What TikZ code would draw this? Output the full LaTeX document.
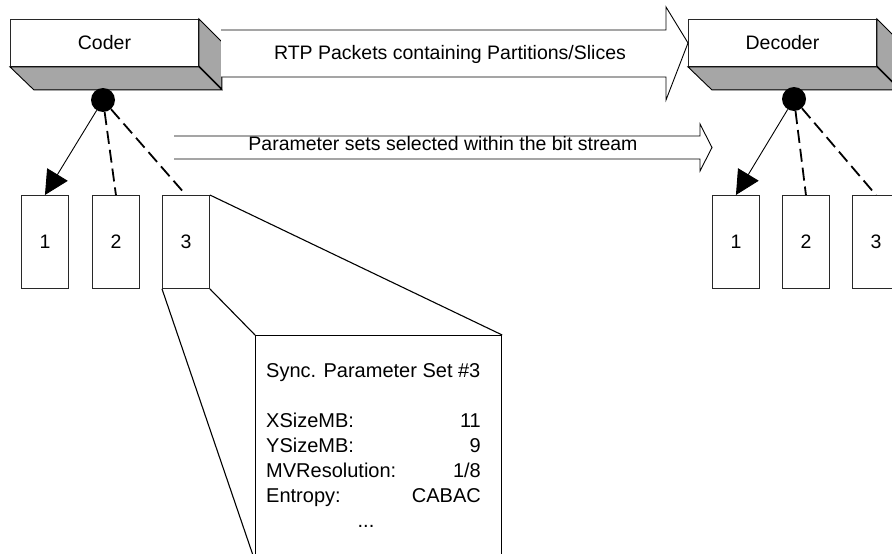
\documentclass[tikz,border=0pt]{standalone}
\usepackage{fontspec}
\setmainfont{Liberation Sans}
\usetikzlibrary{arrows.meta}
\definecolor{sidegray}{RGB}{166,166,166}
\definecolor{edgegray}{RGB}{40,40,40}

\begin{document}
\begin{tikzpicture}[x=1pt,y=-1pt,
  every node/.style={font=\fontsize{19.5}{25}\selectfont},
  frontface/.style={draw=edgegray, line width=0.9pt, fill=white, minimum width=188pt,
    minimum height=47pt, inner sep=0pt, anchor=north west},
  sideface/.style={draw=black, line width=0.9pt, fill=sidegray, line join=miter},
  slot/.style={draw=edgegray, line width=0.9pt, fill=white, minimum width=47pt,
    minimum height=93pt, inner sep=0pt, anchor=north west},
  hub/.style={circle, fill=black, minimum size=24pt, inner sep=0pt},
  solidlink/.style={line width=0.9pt, -{Triangle[length=24pt,width=24pt]}},
  dashlink/.style={line width=1.8pt, dash pattern=on 13pt off 6pt},
  hollow/.style={draw=black, line width=0.9pt, fill=white, line join=miter},
  zoomline/.style={line width=1.1pt},
  setbox/.style={draw=black, line width=1.2pt, fill=white, minimum width=246pt,
    minimum height=225pt, inner sep=0pt, anchor=north west},
  setline/.style={font=\fontsize{20}{25}\selectfont, inner sep=0pt},
]
\useasboundingbox (0,0) rectangle (892,554);
\clip (0,0) rectangle (892,554);

% ---- coder block with its shaded faces
\node[frontface] (coder) at (10,19) {Coder};
\draw[sideface] (coder.south west) -- (coder.south east) -- ++(23,23) -- ++(-188,0) -- cycle;
\draw[sideface] (coder.north east) -- ++(23,23) -- ++(0,47) -- ++(-23,-23) -- cycle;

% ---- decoder block with its shaded faces
\node[frontface] (decoder) at (688,19) {Decoder};
\draw[sideface] (decoder.south west) -- (decoder.south east) -- ++(23,23) -- ++(-188,0) -- cycle;
\draw[sideface] (decoder.north east) -- ++(23,23) -- ++(0,47) -- ++(-23,-23) -- cycle;

% ---- wide hollow arrow carrying the packets
\draw[hollow] (221,30) -- (666,30) -- (666,7) -- (decoder.west) -- (666,100) -- (666,77) -- (221,77);
\node[anchor=base] (rtp) at (450,59) {RTP Packets containing Partitions/Slices};

% ---- narrow hollow arrow for the parameter sets
\draw[hollow] (174,136) -- (700,136) -- (700,124) -- (712,147.5) -- (700,171) -- (700,159) -- (174,159);
\node[anchor=base] (psel) at (443,150) {Parameter sets selected within the bit stream};

% ---- parameter set stores, coder side
\node[slot] (c1) at (21,195) {1};
\node[slot] (c2) at (92,195) {2};
\node[slot] (c3) at (162,195) {3};
\node[hub] (chub) at (103,100) {};
\draw[solidlink] (chub) -- (c1.north);
\draw[dashlink] (chub) -- (c2.north);
\draw[dashlink] (chub) -- (c3.north);

% ---- parameter set stores, decoder side
\node[slot] (d1) at (712,195) {1};
\node[slot] (d2) at (782,195) {2};
\node[slot] (d3) at (852,195) {3};
\node[hub] (dhub) at (794,99) {};
\draw[solidlink] (dhub) -- (d1.north);
\draw[dashlink] (dhub) -- (d2.north);
\draw[dashlink] (dhub) -- (d3.north);

% ---- enlarged view of parameter set 3
\node[setbox] (ps) at (255,335) {};
\draw[zoomline] (c3.north east) -- (ps.north east);
\draw[zoomline] (c3.south east) -- (ps.north west);
\draw[zoomline] (c3.south west) -- (ps.south west);

\node[setline, anchor=base west] (title) at (266,377) {Sync. Parameter Set \#3};
\node[setline, anchor=base west] (kx) at (266,427) {XSizeMB:};
\node[setline, anchor=base east] (vx) at (481,427) {11};
\node[setline, anchor=base west] (ky) at (266,452) {YSizeMB:};
\node[setline, anchor=base east] (vy) at (481,452) {9};
\node[setline, anchor=base west] (kmv) at (266,477) {MVResolution:};
\node[setline, anchor=base east] (vmv) at (481,477) {1/8};
\node[setline, anchor=base west] (ke) at (266,502) {Entropy:};
\node[setline, anchor=base east] (ve) at (481,502) {CABAC};
\node[setline, anchor=base] (more) at (366,527) {...};
\end{tikzpicture}
\end{document}
